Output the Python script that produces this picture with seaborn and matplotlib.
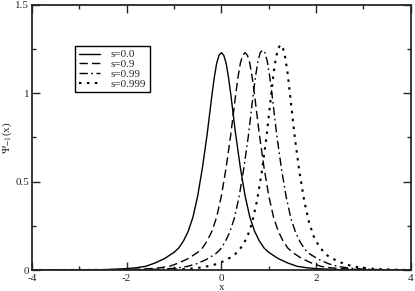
import matplotlib
matplotlib.use("Agg")
import matplotlib.pyplot as plt
import seaborn as sns

# values
x_s0 = [-4, -3, -2.5, -2, -1.8, -1.6, -1.4, -1.2, -1.0, -0.9, -0.8, -0.7, -0.6, -0.5,
        -0.4, -0.3, -0.2, -0.15, -0.1, -0.05, 0, 0.05, 0.1, 0.15, 0.2, 0.3, 0.4, 0.5,
        0.6, 0.7, 0.8, 0.9, 1.0, 1.2, 1.4, 1.6, 1.8, 2.0, 2.5, 3, 4]
y_s0 = [0, 0.0005, 0.002, 0.008, 0.013, 0.021, 0.04, 0.065, 0.10, 0.125, 0.165, 0.22, 0.30, 0.42,
        0.58, 0.77, 0.99, 1.09, 1.17, 1.215, 1.23, 1.215, 1.17, 1.09, 0.99, 0.77, 0.58, 0.42,
        0.30, 0.22, 0.165, 0.125, 0.10, 0.065, 0.04, 0.021, 0.013, 0.008, 0.002, 0.0005, 0]

x_s09 = [-4, -2.5, -2, -1.5, -1.3, -1.1, -0.9, -0.7, -0.5, -0.4, -0.3, -0.2, -0.1, 0.0,
         0.1, 0.2, 0.3, 0.35, 0.4, 0.45, 0.5, 0.55, 0.6, 0.65, 0.7, 0.8, 0.9, 1.0,
         1.1, 1.2, 1.3, 1.4, 1.5, 1.7, 1.9, 2.1, 2.3, 2.5, 3.0, 3.5, 4]
y_s09 = [0, 0.0005, 0.002, 0.008, 0.013, 0.021, 0.04, 0.065, 0.10, 0.125, 0.165, 0.22, 0.30, 0.42,
         0.58, 0.77, 0.99, 1.09, 1.17, 1.215, 1.23, 1.215, 1.17, 1.09, 0.99, 0.77, 0.58, 0.42,
         0.30, 0.22, 0.165, 0.125, 0.10, 0.065, 0.04, 0.021, 0.013, 0.008, 0.002, 0.0005, 0]

x_s099 = [-4, -2.13, -1.63, -1.13, -0.93, -0.73, -0.53, -0.33, -0.13, -0.03, 0.07, 0.17, 0.27, 0.37,
          0.47, 0.57, 0.67, 0.72, 0.77, 0.82, 0.87, 0.92, 0.97, 1.02, 1.07, 1.17, 1.27, 1.37,
          1.47, 1.57, 1.67, 1.77, 1.87, 2.07, 2.27, 2.47, 2.67, 2.87, 3.37, 3.87, 4]
y_s099 = [0, 0.0004, 0.002, 0.007, 0.012, 0.02, 0.035, 0.058, 0.09, 0.115, 0.155, 0.21, 0.29, 0.41,
          0.57, 0.76, 0.99, 1.095, 1.18, 1.23, 1.245, 1.23, 1.18, 1.095, 0.99, 0.76, 0.57, 0.41,
          0.29, 0.21, 0.155, 0.115, 0.09, 0.058, 0.035, 0.02, 0.012, 0.007, 0.002, 0.0004, 0]

x_s0999 = [-4, -1.25, -0.75, -0.55, -0.35, -0.15, 0.05, 0.25, 0.35, 0.45, 0.55, 0.65, 0.75,
           0.85, 0.95, 1.05, 1.1, 1.15, 1.2, 1.25, 1.3, 1.35, 1.4, 1.45, 1.55, 1.65, 1.75,
           1.85, 1.95, 2.05, 2.15, 2.25, 2.45, 2.65, 2.85, 3.05, 3.25, 3.75, 4]
y_s0999 = [0, 0.0015, 0.006, 0.01, 0.018, 0.03, 0.05, 0.08, 0.105, 0.14, 0.19, 0.27, 0.39,
           0.55, 0.75, 0.99, 1.11, 1.20, 1.255, 1.275, 1.255, 1.20, 1.11, 0.99, 0.75, 0.55, 0.39,
           0.27, 0.19, 0.14, 0.105, 0.08, 0.05, 0.03, 0.018, 0.01, 0.006, 0.0015, 0]

labels = ["s=0.0", "s=0.9", "s=0.99", "s=0.999"]

sns.set_style("ticks")
plt.rcParams["font.family"] = ["Liberation Serif", "DejaVu Serif"]
plt.rcParams["mathtext.fontset"] = "stix"
plt.rcParams["axes.unicode_minus"] = False

fig = plt.figure(figsize=(4.15, 2.91), dpi=100)
ax = fig.add_axes([0.077, 0.072, 0.913, 0.911])

series = [(x_s0, y_s0, "-", 1.0),
          (x_s09, y_s09, (0, (6, 3)), 1.0),
          (x_s099, y_s099, (0, (6, 2.5, 1.2, 2.5)), 1.0),
          (x_s0999, y_s0999, (0, (1.2, 2.6)), 1.5)]
for (xs, ys, ls, lw), lab in zip(series, labels):
    sns.lineplot(x=xs, y=ys, ax=ax, color="black", linestyle=ls, linewidth=lw,
                 label=lab, sort=False)

ax.set_xlim(-4, 4)
ax.set_ylim(0, 1.5)
ax.set_xticks([-4, -2, 0, 2, 4])
ax.set_xticks([-3, -1, 1, 3], minor=True)
ax.set_yticks([0, 0.5, 1, 1.5])
ax.set_yticklabels(["0", "0.5", "1", "1.5"])
ax.set_yticks([0.25, 0.75, 1.25], minor=True)
ax.tick_params(which="both", direction="in", top=True, right=True, labelsize=8,
               width=1)
ax.tick_params(axis="x", pad=2.5)
ax.tick_params(axis="y", pad=2)
ax.tick_params(which="major", length=6)
ax.tick_params(which="minor", length=3)
for lbl in ax.get_yticklabels():
    lbl.set_verticalalignment("center_baseline")
for sp in ax.spines.values():
    sp.set_linewidth(1.3)
    sp.set_visible(True)

ax.set_xlabel("x", fontsize=8, labelpad=0.5)
ax.set_ylabel(r"$\Psi_{-1}$(x)", fontsize=8, labelpad=1)

leg = ax.legend(loc="upper left", bbox_to_anchor=(0.1, 0.865), fontsize=8,
                handlelength=1.9, handletextpad=1.0, labelspacing=0.0,
                borderpad=0.3, fancybox=False, framealpha=1, edgecolor="black")
leg.get_frame().set_linewidth(1.0)

fig.savefig("out.png", dpi=100)
